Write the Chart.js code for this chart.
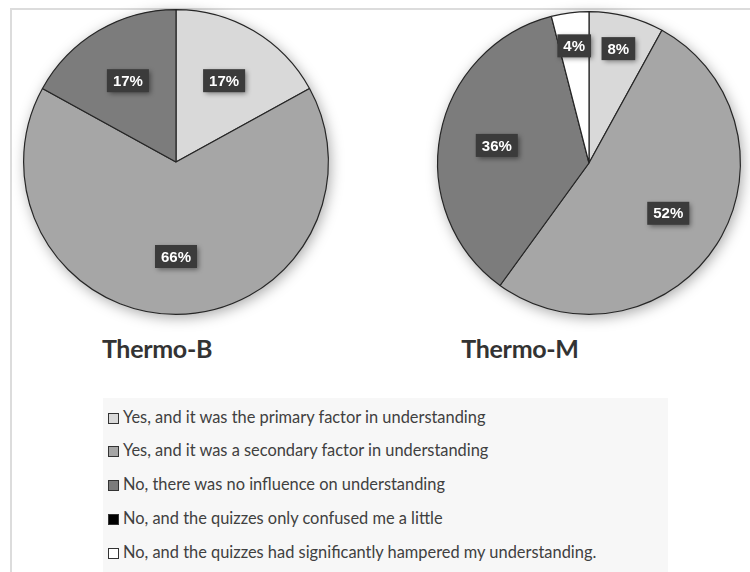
<!DOCTYPE html>
<html>
<head>
<meta charset="utf-8">
<script src="https://cdn.jsdelivr.net/npm/chart.js@4.4.0/dist/chart.umd.min.js"></script>
<style>
  body { margin: 0; width: 750px; height: 572px; overflow: hidden; background: #fff; position: relative; font-family: Lato, "Open Sans", sans-serif; }
  .frame-top { position: absolute; left: 10px; top: 8px; width: 740px; height: 2px; background: #dcdcdc; }
  .frame-left { position: absolute; left: 10px; top: 8px; width: 2px; height: 564px; background: #dcdcdc; }
  .pie { position: absolute; width: 340px; height: 340px; }
  .title { position: absolute; top: 333px; width: 200px; text-align: center; font-weight: bold; font-size: 25px; letter-spacing: -0.3px; color: #333; }
  #legend { position: absolute; left: 103px; top: 398px; width: 565px; height: 174px; background: #f7f7f7; }
  .item { position: absolute; left: 5px; height: 20px; font-size: 16.4px; color: #404040; line-height: 20px; }
  .box { display: inline-block; width: 9px; height: 9px; border: 1px solid #333; margin-right: 4px; vertical-align: -1px; }
</style>
</head>
<body>
<div class="frame-top"></div>
<div class="frame-left"></div>
<canvas id="pieB" class="pie" width="340" height="340" style="left:6px; top:-8px;"></canvas>
<canvas id="pieM" class="pie" width="340" height="340" style="left:419px; top:-7px;"></canvas>
<div class="title" style="left:57px;">Thermo-B</div>
<div class="title" style="left:420px;">Thermo-M</div>
<div id="legend"></div>
<script>
const answers = [
    'Yes, and it was the primary factor in understanding',
    'Yes, and it was a secondary factor in understanding',
    'No, there was no influence on understanding',
    'No, and the quizzes only confused me a little',
    'No, and the quizzes had significantly hampered my understanding.'
];
const thermoB = [17, 66, 17, 0, 0];
const thermoM = [8, 52, 36, 0, 4];
const sliceColors = ['#d9d9d9', '#a6a6a6', '#7c7c7c', '#000000', '#ffffff'];

// soft shadow behind the whole pie
const pieShadow = {
    id: 'pieShadow',
    beforeDatasetsDraw(chart) {
        const arc = chart.getDatasetMeta(0).data[0];
        const ctx = chart.ctx;
        ctx.save();
        ctx.shadowColor = 'rgba(0,0,0,0.35)';
        ctx.shadowBlur = 14;
        ctx.shadowOffsetX = 2;
        ctx.shadowOffsetY = 3;
        ctx.fillStyle = '#fff';
        ctx.beginPath();
        ctx.arc(arc.x, arc.y, arc.outerRadius, 0, Math.PI * 2);
        ctx.fill();
        ctx.restore();
    }
};

// dark boxed percentage labels
const boxLabels = {
    id: 'boxLabels',
    afterDatasetsDraw(chart) {
        const ctx = chart.ctx;
        const values = chart.data.datasets[0].data;
        chart.getDatasetMeta(0).data.forEach((arc, i) => {
            const v = values[i];
            if (!v) return;
            const mid = (arc.startAngle + arc.endAngle) / 2;
            const frac = v < 10 ? 0.78 : 0.62;
            const x = arc.x + Math.cos(mid) * arc.outerRadius * frac;
            const y = arc.y + Math.sin(mid) * arc.outerRadius * frac;
            const text = v + '%';
            ctx.save();
            ctx.font = 'bold 15px "Liberation Sans", Arial, sans-serif';
            const w = ctx.measureText(text).width + 12;
            const h = 23;
            ctx.shadowColor = 'rgba(0,0,0,0.45)';
            ctx.shadowBlur = 5;
            ctx.shadowOffsetX = 2;
            ctx.shadowOffsetY = 2;
            ctx.fillStyle = '#3b3b3b';
            ctx.fillRect(x - w / 2, y - h / 2, w, h);
            ctx.shadowColor = 'transparent';
            ctx.fillStyle = '#ffffff';
            ctx.textAlign = 'center';
            ctx.textBaseline = 'middle';
            ctx.fillText(text, x, y + 1);
            ctx.restore();
        });
    }
};

function makePie(id, values, pad)
{
    new Chart(document.getElementById(id),
    {
        type: 'pie',
        data:
        {
            labels: answers,
            datasets:
            [
                {
                    data: values,
                    backgroundColor: sliceColors,
                    borderColor: '#262626',
                    borderWidth: 1.2
                }
            ]
        },
        options:
        {
            responsive: false,
            animation: false,
            layout: { padding: pad },
            plugins:
            {
                legend: { display: false },
                tooltip: { enabled: false }
            }
        },
        plugins: [pieShadow, boxLabels]
    });
}

makePie('pieB', thermoB, 17);
makePie('pieM', thermoM, 18);

// legend built from the same labels and colours
const legend = document.getElementById('legend');
const rowTops = [9, 42, 76, 110, 144];
answers.forEach((label, i) => {
    const row = document.createElement('div');
    row.className = 'item';
    row.style.top = rowTops[i] + 'px';
    row.innerHTML = '<span class="box" style="background:' + sliceColors[i] + '"></span>' + label;
    legend.appendChild(row);
});
</script>
</body>
</html>
